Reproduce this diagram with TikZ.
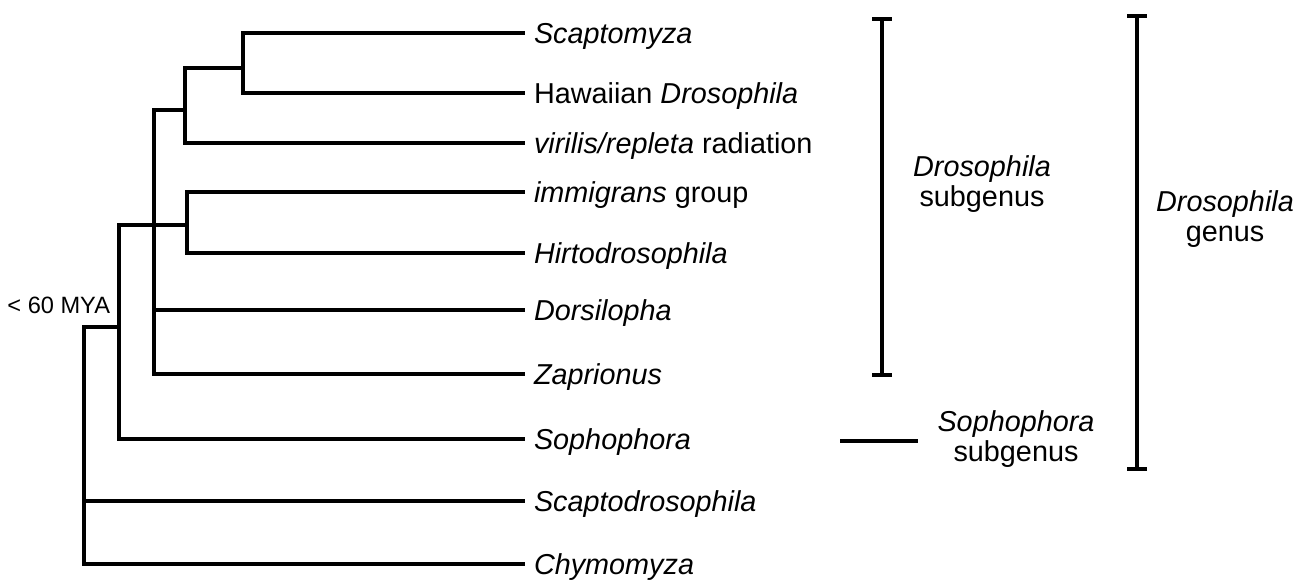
\documentclass[tikz,border=0pt]{standalone}
\usepackage{fontspec}
\setmainfont{Liberation Sans}
\usetikzlibrary{arrows.meta}

\begin{document}
\begin{tikzpicture}[x=0.5pt, y=-0.5pt, line width=2pt]
\tikzstyle{every node}=[font=\fontsize{14.4}{14.8}\selectfont];
\tikzstyle{leaf}=[anchor=west, inner xsep=3.5pt, text height=10pt, text depth=0pt];
\tikzstyle{clade}=[align=center, inner sep=0pt];
\tikzstyle{bracket}=[{Bar[width=10pt]}-{Bar[width=10pt]}];

\useasboundingbox (0,0) rectangle (1308,579);

\draw (525,33) node[leaf] (scap) {\textit{Scaptomyza}};
\draw (525,93) node[leaf] (hawa) {Hawaiian \textit{Drosophila}};
\draw (525,143) node[leaf] (viri) {\textit{virilis/repleta} radiation};
\draw (525,192) node[leaf] (immi) {\textit{immigrans} group};
\draw (525,253) node[leaf] (hirt) {\textit{Hirtodrosophila}};
\draw (525,310) node[leaf] (dors) {\textit{Dorsilopha}};
\draw (525,374) node[leaf] (zapr) {\textit{Zaprionus}};
\draw (525,439) node[leaf] (soph) {\textit{Sophophora}};
\draw (525,501) node[leaf] (scdr) {\textit{Scaptodrosophila}};
\draw (525,564) node[leaf] (chym) {\textit{Chymomyza}};

\coordinate (n1) at (243,68);
\coordinate (n2) at (185,110);
\coordinate (n3) at (187,225);
\coordinate (n4) at (154,225);
\coordinate (n5) at (119,327);
\coordinate (n6) at (84,445);

\draw (n1) |- (scap.west);
\draw (n1) |- (hawa.west);
\draw (n2) |- (n1);
\draw (n2) |- (viri.west);
\draw (n3) |- (immi.west);
\draw (n3) |- (hirt.west);
\draw (n4) |- (n2);
\draw (n4) -- (n3);
\draw (n4) |- (dors.west);
\draw (n4) |- (zapr.west);
\draw (n5) |- (n4);
\draw (n5) |- (soph.west);
\draw (n6) |- (n5);
\draw (n6) |- (scdr.west);
\draw (n6) |- (chym.west);

\draw (112,305) node[anchor=east, inner sep=0pt, font=\fontsize{11.8}{14}\selectfont] (mya) {< 60 MYA};

\coordinate (sg1) at (882,17);
\coordinate (sg2) at (882,377);
\coordinate (so1) at (840,441);
\coordinate (so2) at (918,441);
\coordinate (ge1) at (1137,14);
\coordinate (ge2) at (1137,471);

\draw[bracket] (sg1) -- (sg2);
\draw (so1) -- (so2);
\draw[bracket] (ge1) -- (ge2);

\draw (982,184) node[clade] (dsub) {\textit{Drosophila}\\subgenus};
\draw (1016,439) node[clade] (ssub) {\textit{Sophophora}\\subgenus};
\draw (1225,219) node[clade] (dgen) {\textit{Drosophila}\\genus};

\end{tikzpicture}
\end{document}
